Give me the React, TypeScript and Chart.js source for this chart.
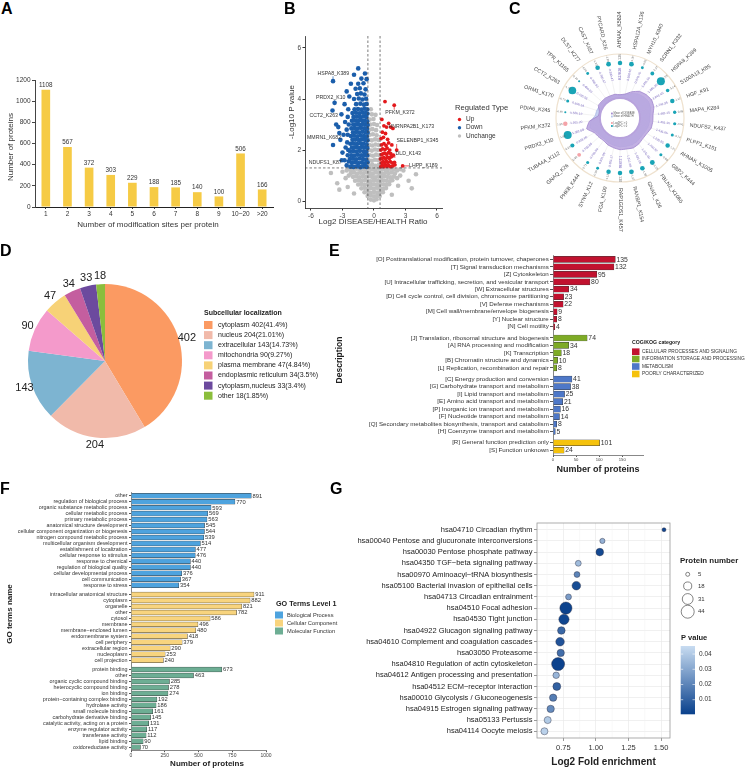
import React, { useEffect, useRef } from "react";
import { Chart, registerables } from "chart.js";

Chart.register(...registerables);
const FONT = '"Liberation Sans", Arial, Helvetica, sans-serif';
Chart.defaults.font.family = FONT;
Chart.defaults.color = "#333";

/* ============================ DATA ============================ */
// ---- A
const aSiteBins = ["1", "2", "3", "4", "5", "6", "7", "8", "9", "10~20", ">20"];
const aProteinCounts = [1108, 567, 372, 303, 229, 188, 185, 140, 100, 506, 166];
const aYTicks = [0, 200, 400, 600, 800, 1000, 1200];

// ---- B (volcano)
const bUnchange: number[][] = [
  [-2.3, 1.25], [-2.0, 1.22], [-1.7, 1.27], [-1.4, 1.24], [-1.1, 1.26], [-0.8, 1.23], [-0.5, 1.27], [-0.2, 1.25], [0.1, 1.22], [0.4, 1.27], [0.7, 1.24], [1.0, 1.26], [1.3, 1.22], [1.6, 1.27], [1.9, 1.24], [2.2, 1.2],
  [-2.2, 1.1], [-1.9, 1.12], [-1.6, 1.08], [-1.3, 1.11], [-1.0, 1.09], [-0.7, 1.12], [-0.4, 1.1], [-0.1, 1.08], [0.2, 1.12], [0.5, 1.1], [0.8, 1.08], [1.1, 1.11], [1.4, 1.09], [1.7, 1.12], [2.0, 1.08],
  [-2.0, 0.95], [-1.7, 0.97], [-1.4, 0.93], [-1.1, 0.96], [-0.8, 0.94], [-0.5, 0.97], [-0.2, 0.95], [0.1, 0.93], [0.4, 0.96], [0.7, 0.94], [1.0, 0.97], [1.3, 0.95], [1.6, 0.93], [1.9, 0.96],
  [-1.8, 0.8], [-1.5, 0.82], [-1.2, 0.79], [-0.9, 0.81], [-0.6, 0.8], [-0.3, 0.78], [0.0, 0.82], [0.3, 0.8], [0.6, 0.79], [0.9, 0.81], [1.2, 0.8], [1.5, 0.78], [1.75, 0.82],
  [-1.5, 0.65], [-1.2, 0.67], [-0.9, 0.63], [-0.6, 0.66], [-0.3, 0.64], [0.0, 0.66], [0.3, 0.63], [0.6, 0.67], [0.9, 0.65], [1.2, 0.64], [1.45, 0.66],
  [-1.2, 0.5], [-0.9, 0.52], [-0.6, 0.48], [-0.3, 0.51], [0.0, 0.49], [0.3, 0.52], [0.6, 0.5], [0.9, 0.48], [1.15, 0.51],
  [-0.9, 0.35], [-0.6, 0.37], [-0.3, 0.33], [0.0, 0.36], [0.3, 0.34], [0.6, 0.37], [0.85, 0.35],
  [-0.6, 0.2], [-0.3, 0.22], [0.0, 0.19], [0.3, 0.21], [0.55, 0.2],
  [-0.3, 0.06], [0.0, 0.03], [0.25, 0.07],
  [-0.45, 1.4], [-0.15, 1.42], [0.15, 1.38], [0.45, 1.41], [-0.5, 1.6], [-0.2, 1.58], [0.1, 1.62], [0.4, 1.6],
  [-0.4, 1.8], [-0.1, 1.78], [0.2, 1.82], [0.5, 1.8], [-0.5, 2.0], [-0.2, 1.98], [0.1, 2.02], [0.4, 2.0],
  [-0.45, 2.2], [-0.15, 2.18], [0.15, 2.22], [0.45, 2.2], [-0.5, 2.4], [-0.2, 2.38], [0.1, 2.42], [0.4, 2.4],
  [-0.4, 2.6], [-0.1, 2.62], [0.25, 2.58], [-0.45, 2.8], [-0.15, 2.82], [0.2, 2.78], [-0.35, 3.0], [0.0, 3.02], [0.3, 2.98],
  [-0.4, 3.2], [-0.05, 3.22], [-0.2, 3.4], [0.15, 3.38], [-0.3, 3.6],
  [-3.0, 1.15], [-2.7, 0.9], [-3.5, 0.7], [-4.1, 1.1], [2.5, 1.0], [2.8, 1.2], [3.3, 0.8], [4.0, 1.05], [-2.5, 0.55], [2.3, 0.6],
  [-1.9, 0.3], [1.7, 0.25], [-2.6, 1.2], [2.5, 1.25], [-2.4, 1.0], [2.2, 0.9], [-3.3, 0.45], [3.6, 0.5],
];
const bDown: number[][] = [
  [-2.25, 1.35], [-1.95, 1.34], [-1.62, 1.36], [-1.3, 1.33], [-1.02, 1.36], [-0.7, 1.34],
  [-2.1, 1.5], [-1.8, 1.52], [-1.48, 1.49], [-1.15, 1.51], [-0.85, 1.48], [-0.62, 1.52],
  [-2.3, 1.65], [-2.0, 1.66], [-1.7, 1.64], [-1.38, 1.67], [-1.05, 1.65], [-0.75, 1.63],
  [-2.15, 1.8], [-1.85, 1.79], [-1.55, 1.82], [-1.22, 1.8], [-0.92, 1.81], [-0.64, 1.79],
  [-2.28, 1.95], [-1.97, 1.96], [-1.66, 1.94], [-1.34, 1.97], [-1.0, 1.95], [-0.72, 1.93],
  [-2.1, 2.1], [-1.8, 2.11], [-1.5, 2.09], [-1.18, 2.12], [-0.88, 2.1], [-0.63, 2.08],
  [-2.25, 2.25], [-1.92, 2.26], [-1.62, 2.24], [-1.3, 2.27], [-1.0, 2.25], [-0.7, 2.23],
  [-2.05, 2.4], [-1.75, 2.41], [-1.45, 2.39], [-1.15, 2.42], [-0.85, 2.4], [-0.62, 2.38],
  [-2.2, 2.55], [-1.9, 2.56], [-1.58, 2.54], [-1.27, 2.57], [-0.96, 2.55], [-0.68, 2.53],
  [-2.0, 2.7], [-1.7, 2.71], [-1.4, 2.69], [-1.1, 2.72], [-0.8, 2.7], [-0.61, 2.68],
  [-2.15, 2.85], [-1.85, 2.86], [-1.55, 2.84], [-1.24, 2.87], [-0.93, 2.85], [-0.66, 2.83],
  [-1.98, 3.0], [-1.68, 3.01], [-1.38, 2.99], [-1.08, 3.02], [-0.78, 3.0], [-0.6, 2.98],
  [-2.1, 3.15], [-1.8, 3.16], [-1.5, 3.14], [-1.2, 3.17], [-0.9, 3.15], [-0.65, 3.13],
  [-1.95, 3.3], [-1.62, 3.31], [-1.32, 3.29], [-1.02, 3.32], [-0.72, 3.3],
  [-2.05, 3.45], [-1.72, 3.46], [-1.4, 3.44], [-1.1, 3.47], [-0.8, 3.45], [-0.62, 3.43],
  [-1.85, 3.6], [-1.52, 3.61], [-1.2, 3.59], [-0.9, 3.62], [-0.65, 3.6],
  [-1.7, 3.8], [-1.3, 3.82], [-0.95, 3.78], [-0.7, 3.81], [-1.9, 4.0], [-1.45, 4.02], [-1.1, 3.98], [-0.75, 4.01],
  [-1.6, 4.2], [-1.25, 4.22], [-0.9, 4.18], [-1.75, 4.4], [-1.35, 4.42], [-0.8, 4.38],
  [-1.5, 4.6], [-1.0, 4.62], [-1.2, 4.8], [-0.7, 4.78], [-0.86, 5.0], [-1.5, 5.2], [-1.9, 4.95],
  [-2.6, 1.4], [-2.8, 1.6], [-2.5, 1.8], [-3.0, 1.9], [-2.7, 2.1], [-2.55, 2.3], [-3.2, 2.4], [-2.9, 2.6], [-2.6, 2.8], [-3.4, 2.9],
  [-2.75, 3.1], [-2.5, 3.3], [-3.1, 3.4], [-2.45, 3.6], [-2.8, 3.8], [-2.35, 4.1], [-2.6, 4.3], [-2.2, 4.6], [-3.6, 3.0], [-3.9, 2.2],
  [-2.4, 1.55], [-2.45, 2.0], [-2.5, 2.6], [-2.4, 3.0],
  [-3.9, 4.7], [-3.75, 3.85], [-3.95, 3.55], [-3.3, 2.67], [-3.07, 1.6],
];
const bUp: number[][] = [
  [1.93, 3.76], [1.05, 3.9], [1.2, 2.9], [1.8, 2.85], [2.16, 2.0], [1.5, 1.7], [2.73, 1.38],
  [0.65, 1.35], [0.8, 1.4], [0.95, 1.35], [1.1, 1.42], [1.25, 1.36], [1.4, 1.4], [1.6, 1.35], [1.8, 1.38], [2.0, 1.42],
  [0.7, 1.5], [0.88, 1.55], [1.02, 1.5], [1.18, 1.56], [1.33, 1.52], [1.55, 1.55], [1.72, 1.5], [1.95, 1.52],
  [0.62, 1.65], [0.78, 1.68], [0.95, 1.7], [1.12, 1.66], [1.28, 1.72], [1.45, 1.68], [1.65, 1.74],
  [0.7, 1.82], [0.85, 1.85], [1.0, 1.88], [1.2, 1.84], [1.38, 1.9], [1.6, 1.86], [1.85, 1.8],
  [0.65, 2.0], [0.82, 2.05], [1.05, 2.02], [1.25, 2.08], [1.5, 2.0],
  [0.72, 2.2], [0.95, 2.25], [1.15, 2.18], [1.4, 2.28], [1.7, 2.2],
  [0.68, 2.45], [0.9, 2.5], [1.3, 2.42], [0.8, 2.7], [1.1, 2.65], [0.95, 2.95], [1.6, 2.9], [1.4, 3.05], [0.75, 3.2],
];
const bXTicks = [-6, -3, 0, 3, 6];
const bYTicks = [0, 2, 4, 6];
const bFcCutoff = 0.58;
const bPCutoff = 1.3;
const bTypes = ["Up", "Down", "Unchange"];
const bLabelNames = ["HSPA8_K389", "PRDX2_K10", "CCT2_K263", "MMRN1_K682", "NDUFS1_K87", "PFKM_K372", "HNRNPA2B1_K173", "SELENBP1_K345", "DLD_K143", "LHPP_K189"];
const bLabelPoints = [[-3.9, 4.7], [-3.75, 3.85], [-3.95, 3.55], [-3.3, 2.67], [-3.07, 1.6], [1.93, 3.76], [1.2, 2.9], [2.16, 2.0], [1.5, 1.7], [2.73, 1.38]];

// ---- C (circular plot)
const cSites = ["AHNAK_K5824", "HSPA12A_K136", "MYH10_K940", "SCRN1_K332", "HSPA8_K389", "S100A13_K85", "HGF_K91", "MAP4_K284", "NDUFS2_K437", "PLPP1_K151",
  "AHNAK_K1005", "GBP2_K444", "FBLN2_K1065", "GNAI1_K26", "RANBP1_K154", "RAP1GDS1_K457", "FGA_K100", "SYNM_K12", "PHKB_K444", "GNAQ_K26",
  "TUBA4A_K112", "PRDX2_K10", "PFKM_K372", "PDIA6_K245", "ORM1_K170", "CCT2_K263", "TPR_K1165", "DLST_K277", "CAST_K457", "PYCARD_K26"];
const cLog2FC = [-1.36, -1.30, -0.95, -1.07, -1.93, -1.04, -1.12, -0.86, -0.91, -0.74, -1.21, -0.88, -1.35, -1.50, -1.27, -1.38, -1.13, -0.90, -0.71, 0.82,
  -1.15, -1.88, 1.93, -0.66, -0.79, -1.72, -0.70, -0.95, -1.33, -1.26];
const cSignif = [2.2, 2.3, 1.7, 2.0, 3.3, 1.9, 2.2, 1.85, 1.8, 1.75, 2.2, 1.75, 2.3, 2.25, 2.3, 2.2, 2.2, 1.7, 1.75, 2.0, 2.1, 3.3, 2.2, 1.45, 1.75, 3.2, 1.45, 1.7, 2.25, 2.3];
const cMeanDisease = [0.37, 0.5, 0.97, 1.45, 1.68, 1.84, 1.74, 1.48, 1.45, 1.43, 1.23, 1.2, 1.34, 1.42, 1.31, 1.31, 1.17, 1.06, 0.89, 0.95,
  1.06, 1.68, 1.2, 0.19, 0.19, 0.56, 0.53, 0.53, 0.47, 0.47];
const cMeanHealth = [0.3, 0.42, 0.75, 1.1, 1.3, 1.45, 1.35, 1.15, 1.1, 1.05, 0.95, 0.92, 1.0, 1.05, 1.0, 0.98, 0.9, 0.82, 0.7, 0.75,
  0.85, 1.3, 1.05, 0.55, 0.5, 0.42, 0.4, 0.4, 0.36, 0.33];
const cInnerLegend = ["Mean of DISEASE", "Mean of HEALTH", "Log2FC > 0", "Log2FC < 0"];

// ---- D (pie)
const dLocations = ["cytoplasm", "nucleus", "extracellular", "mitochondria", "plasma membrane", "endoplasmic reticulum", "cytoplasm,nucleus", "other"];
const dCounts = [402, 204, 143, 90, 47, 34, 33, 18];
const dPercents = ["41.4%", "21.01%", "14.73%", "9.27%", "4.84%", "3.5%", "3.4%", "1.85%"];

// ---- E (COG/KOG)
const eCategories = ["CELLULAR PROCESSES AND SIGNALING", "INFORMATION STORAGE AND PROCESSING", "METABOLISM", "POORLY CHARACTERIZED"];
const eCellular = ["[O] Posttranslational modification, protein turnover, chaperones", "[T] Signal transduction mechanisms", "[Z] Cytoskeleton",
  "[U] Intracellular trafficking, secretion, and vesicular transport", "[W] Extracellular structures", "[D] Cell cycle control, cell division, chromosome partitioning",
  "[V] Defense mechanisms", "[M] Cell wall/membrane/envelope biogenesis", "[Y] Nuclear structure", "[N] Cell motility"];
const eCellularN = [135, 132, 95, 80, 34, 23, 22, 9, 8, 4];
const eInfo = ["[J] Translation, ribosomal structure and biogenesis", "[A] RNA processing and modification", "[K] Transcription", "[B] Chromatin structure and dynamics", "[L] Replication, recombination and repair"];
const eInfoN = [74, 34, 18, 10, 8];
const eMetab = ["[C] Energy production and conversion", "[G] Carbohydrate transport and metabolism", "[I] Lipid transport and metabolism", "[E] Amino acid transport and metabolism",
  "[P] Inorganic ion transport and metabolism", "[F] Nucleotide transport and metabolism", "[Q] Secondary metabolites biosynthesis, transport and catabolism", "[H] Coenzyme transport and metabolism"];
const eMetabN = [41, 38, 25, 21, 16, 14, 8, 5];
const ePoor = ["[R] General function prediction only", "[S] Function unknown"];
const ePoorN = [101, 24];
const eXTicks = [0, 50, 100, 150];

// ---- F (GO)
const fLevels = ["Biological Process", "Cellular Component", "Molecular Function"];
const fBP = ["other", "regulation of biological process", "organic substance metabolic process", "cellular metabolic process", "primary metabolic process",
  "anatomical structure development", "cellular component organization or biogenesis", "nitrogen compound metabolic process", "multicellular organism development",
  "establishment of localization", "cellular response to stimulus", "response to chemical", "regulation of biological quality", "cellular developmental process",
  "cell communication", "response to stress"];
const fBPN = [891, 770, 593, 569, 563, 545, 544, 539, 514, 477, 476, 440, 440, 376, 367, 354];
const fCC = ["intracellular anatomical structure", "cytoplasm", "organelle", "other", "cytosol", "membrane", "membrane\u2212enclosed lumen", "endomembrane system",
  "cell periphery", "extracellular region", "nucleoplasm", "cell projection"];
const fCCN = [911, 882, 821, 782, 586, 496, 480, 418, 379, 290, 253, 240];
const fMF = ["protein binding", "other", "organic cyclic compound binding", "heterocyclic compound binding", "ion binding", "protein\u2212containing complex binding",
  "hydrolase activity", "small molecule binding", "carbohydrate derivative binding", "catalytic activity, acting on a protein", "enzyme regulator activity",
  "transferase activity", "lipid binding", "oxidoreductase activity"];
const fMFN = [673, 463, 285, 278, 274, 192, 186, 161, 145, 131, 117, 112, 90, 70];
const fXTicks = [0, 250, 500, 750, 1000];

// ---- G (KEGG)
const gPathways = ["hsa04710 Circadian rhythm", "hsa00040 Pentose and glucuronate interconversions", "hsa00030 Pentose phosphate pathway", "hsa04350 TGF\u2212beta signaling pathway",
  "hsa00970 Aminoacyl\u2212tRNA biosynthesis", "hsa05100 Bacterial invasion of epithelial cells", "hsa04713 Circadian entrainment", "hsa04510 Focal adhesion",
  "hsa04530 Tight junction", "hsa04922 Glucagon signaling pathway", "hsa04610 Complement and coagulation cascades", "hsa03050 Proteasome",
  "hsa04810 Regulation of actin cytoskeleton", "hsa04612 Antigen processing and presentation", "hsa04512 ECM\u2212receptor interaction",
  "hsa00010 Glycolysis / Gluconeogenesis", "hsa04915 Estrogen signaling pathway", "hsa05133 Pertussis", "hsa04114 Oocyte meiosis"];
const gFold = [1.523, 1.05, 1.03, 0.865, 0.855, 0.85, 0.79, 0.77, 0.755, 0.735, 0.725, 0.73, 0.71, 0.695, 0.70, 0.672, 0.653, 0.63, 0.605];
const gCount = [5, 8, 16, 10, 10, 20, 10, 39, 28, 16, 20, 15, 44, 12, 17, 15, 15, 14, 14];
const gP = [0.002, 0.033, 0.003, 0.036, 0.02, 0.004, 0.027, 0.001, 0.002, 0.012, 0.006, 0.014, 0.001, 0.034, 0.01, 0.018, 0.022, 0.04, 0.042];
const gXTicks = [0.75, 1.0, 1.25, 1.5];
const gMinorX = [0.625, 0.875, 1.125, 1.375];
const gSizeBreaks = [5, 18, 31, 44];
const gPBreaks = [0.04, 0.03, 0.02, 0.01];
const gPRange = [0.0004, 0.0453];

/* ============================ STYLE / HELPERS ============================ */
const fnt = (size: number, bold = false) => `${bold ? "bold " : ""}${size}px ${FONT}`;
type T = { t: string; x: number; y: number; s: number; b?: boolean; c?: string; a?: CanvasTextAlign; r?: number };
function drawT(ctx: any, items: T[], ox: number, oy: number) {
  items.forEach((it) => {
    ctx.save();
    ctx.translate(it.x - ox, it.y - oy);
    if (it.r) ctx.rotate(it.r);
    ctx.font = fnt(it.s, it.b);
    ctx.fillStyle = it.c || "#333";
    ctx.textAlign = it.a || "center";
    ctx.textBaseline = "middle";
    ctx.fillText(it.t, 0, 0);
    ctx.restore();
  });
}
const overlay = (id: string, ox: number, oy: number, items: T[], extra?: (ctx: any, chart: any) => void) => ({
  id,
  afterDraw(chart: any) {
    const ctx = chart.ctx;
    ctx.save();
    if (extra) extra(ctx, chart);
    drawT(ctx, items, ox, oy);
    ctx.restore();
  },
});
const base = (pad: any) => ({
  animation: false, responsive: false, maintainAspectRatio: false, events: [],
  layout: { padding: pad },
  plugins: { legend: { display: false }, tooltip: { enabled: false } },
});
const fixTicks = (vals: number[]) => (s: any) => { s.ticks = vals.map((v) => ({ value: v })); };
function groupPositions(sizes: number[], gap: number) {
  const pos: number[] = [];
  let k = 0;
  sizes.forEach((n, g) => { for (let i = 0; i < n; i++) { pos.push(k + g * gap); k++; } });
  return pos;
}
const barValues = (id: string, size: number) => ({
  id,
  afterDatasetsDraw(chart: any) {
    const ctx = chart.ctx;
    ctx.save();
    ctx.font = fnt(size);
    ctx.fillStyle = "#333";
    ctx.textAlign = "left";
    ctx.textBaseline = "middle";
    chart.data.datasets.forEach((ds: any, di: number) => {
      chart.getDatasetMeta(di).data.forEach((bar: any, i: number) => ctx.fillText(String(ds.data[i].x), bar.x + 1.2, bar.y + 0.3));
    });
    ctx.restore();
  },
});
const rot90 = -Math.PI / 2;

/* ============================ A ============================ */
function buildA() {
  const ox = 0, oy = 40;
  const vals = {
    id: "aVals",
    afterDatasetsDraw(chart: any) {
      const ctx = chart.ctx;
      ctx.save();
      ctx.font = fnt(6.3);
      ctx.fillStyle = "#333";
      ctx.textAlign = "center";
      ctx.textBaseline = "bottom";
      chart.getDatasetMeta(0).data.forEach((bar: any, i: number) => ctx.fillText(String(aProteinCounts[i]), bar.x, bar.y - 1.5));
      ctx.restore();
    },
  };
  return {
    type: "bar",
    data: { labels: aSiteBins, datasets: [{ data: aProteinCounts, backgroundColor: "#F6CB45", barPercentage: 0.4, categoryPercentage: 1 }] },
    options: {
      ...base({ top: 40, right: 12, left: 0, bottom: 0 }),
      scales: {
        x: { grid: { offset: false, drawOnChartArea: false, tickLength: 2, color: "#333" }, border: { color: "#222", width: 1 },
          ticks: { font: { size: 6.5 }, color: "#333", padding: 1.5, autoSkip: false, maxRotation: 0 }, afterFit: (s: any) => { s.height = 33; } },
        y: { min: 0, max: 1200, afterBuildTicks: fixTicks(aYTicks), grid: { drawOnChartArea: false, tickLength: 3, color: "#444" }, border: { color: "#444" },
          ticks: { font: { size: 6.5 }, color: "#333", padding: 1.5, callback: (v: any) => String(v) }, afterFit: (s: any) => { s.width = 35; } },
      },
    },
    plugins: [vals, overlay("aTxt", ox, oy, [
      { t: "Number of modification sites per protein", x: 148, y: 225, s: 8 },
      { t: "Number of proteins", x: 10.7, y: 147, s: 8, r: rot90 },
    ])],
  };
}

/* ============================ B ============================ */
function buildB() {
  const ox = 270, oy = 20;
  const colors = ["#E3191C", "#1B5EAB", "#BFBFBF"];
  const textPos = [[333.3, 73.3], [330.8, 97.3], [323.7, 116], [324, 137.3], [325.3, 162.7], [400, 112.7], [411.3, 126.7], [417.5, 141], [408.3, 154], [423.3, 165.7]];
  const deco = {
    id: "bDeco",
    afterDatasetsDraw(chart: any) {
      const ctx = chart.ctx, xs = chart.scales.x, ys = chart.scales.y, a = chart.chartArea;
      ctx.save();
      ctx.strokeStyle = "#444";
      ctx.lineWidth = 0.7;
      ctx.setLineDash([2.5, 2]);
      [-bFcCutoff, bFcCutoff].forEach((v) => {
        const px = xs.getPixelForValue(v);
        ctx.beginPath(); ctx.moveTo(px, a.top); ctx.lineTo(px, a.bottom); ctx.stroke();
      });
      const py = ys.getPixelForValue(bPCutoff);
      ctx.beginPath(); ctx.moveTo(a.left, py); ctx.lineTo(a.right, py); ctx.stroke();
      ctx.setLineDash([]);
      ctx.font = fnt(5.2);
      ctx.textAlign = "center";
      ctx.textBaseline = "middle";
      bLabelNames.forEach((name, i) => {
        const [vx, vy] = bLabelPoints[i];
        const px2 = xs.getPixelForValue(vx), py2 = ys.getPixelForValue(vy);
        const cx = textPos[i][0] - ox, cy = textPos[i][1] - oy;
        const w = ctx.measureText(name).width;
        const sx = Math.max(cx - w / 2, Math.min(cx + w / 2, px2));
        const sy = Math.max(cy - 3, Math.min(cy + 3, py2));
        if (Math.hypot(px2 - sx, py2 - sy) > 2.5) {
          ctx.strokeStyle = vx < 0 ? colors[1] : colors[0];
          ctx.lineWidth = 0.7;
          ctx.beginPath(); ctx.moveTo(sx, sy); ctx.lineTo(px2, py2); ctx.stroke();
        }
        ctx.fillStyle = "#333";
        ctx.fillText(name, cx, cy);
      });
      const ly = [119.5, 127.7, 136];
      bTypes.forEach((t, i) => {
        ctx.fillStyle = colors[i];
        ctx.beginPath(); ctx.arc(459.5 - ox, ly[i] - oy, 1.7, 0, Math.PI * 2); ctx.fill();
      });
      ctx.restore();
    },
  };
  const ds = (pts: number[][], color: string, order: number, r: number) => ({
    data: pts.map(([x, y]) => ({ x, y })), pointRadius: r, pointBackgroundColor: color, pointBorderWidth: 0, showLine: false, order,
  });
  return {
    type: "scatter",
    data: { datasets: [ds(bUp, colors[0], 1, 1.9), ds(bDown, colors[1], 2, 2.3), ds(bUnchange, colors[2], 3, 2.3)] },
    options: {
      ...base({ top: 16, right: 78, left: 0, bottom: 0 }),
      scales: {
        x: { type: "linear", min: -6.57, max: 6.48, afterBuildTicks: fixTicks(bXTicks), grid: { drawOnChartArea: false, tickLength: 2.5, color: "#333" },
          border: { color: "#222", width: 0.8 }, ticks: { font: { size: 6.5 }, color: "#444", padding: 1.5 }, afterFit: (s: any) => { s.height = 32; } },
        y: { type: "linear", min: -0.27, max: 6.47, afterBuildTicks: fixTicks(bYTicks), grid: { drawOnChartArea: false, tickLength: 2.5, color: "#333" },
          border: { color: "#222", width: 0.8 }, ticks: { font: { size: 6.5 }, color: "#444", padding: 1.5 }, afterFit: (s: any) => { s.width = 35; } },
      },
    },
    plugins: [deco, overlay("bTxt", ox, oy, [
      { t: "Log2 DISEASE/HEALTH Ratio", x: 373, y: 222, s: 8 },
      { t: "-Log10 P value", x: 291.5, y: 112, s: 8, r: rot90 },
      { t: "Regulated Type", x: 455, y: 108, s: 7.6, a: "left" },
      { t: bTypes[0], x: 466, y: 119.5, s: 6.5, a: "left" },
      { t: bTypes[1], x: 466, y: 127.7, s: 6.5, a: "left" },
      { t: bTypes[2], x: 466, y: 136, s: 6.5, a: "left" },
    ])],
  };
}

/* ============================ C ============================ */
const C_MIN = -2.235, C_MAX = 5.14;
const C_DOT_RING = 3.91;
function radialText(ctx: any, s: any, i: number, text: string, r: number, align: "start" | "center", size: number, color: string) {
  const theta = s.getIndexAngle(i);
  const a = theta - Math.PI / 2;
  const flip = theta > Math.PI + 0.01;
  ctx.save();
  ctx.translate(s.xCenter, s.yCenter);
  ctx.font = fnt(size);
  ctx.fillStyle = color;
  ctx.textBaseline = "middle";
  if (!flip) {
    ctx.rotate(a);
    ctx.textAlign = align === "start" ? "left" : "center";
    ctx.fillText(text, r, 0);
  } else {
    ctx.rotate(a + Math.PI);
    ctx.textAlign = align === "start" ? "right" : "center";
    ctx.fillText(text, -r, 0);
  }
  ctx.restore();
}
function buildC() {
  const deco = {
    id: "cDeco",
    beforeDatasetsDraw(chart: any) {
      const s = chart.scales.r, ctx = chart.ctx, k = s.drawingArea / 66;
      ctx.save();
      ctx.strokeStyle = "#EFE2CF";
      ctx.lineWidth = 1.2;
      ctx.beginPath(); ctx.arc(s.xCenter, s.yCenter, 64 * k, 0, Math.PI * 2); ctx.stroke();
      ctx.strokeStyle = "#E6E6E6";
      ctx.lineWidth = 0.5;
      for (let i = 0; i < cSites.length; i++) {
        const p1 = s.getPointPosition(i, 20 * k), p2 = s.getPointPosition(i, 51 * k);
        ctx.beginPath(); ctx.moveTo(p1.x, p1.y); ctx.lineTo(p2.x, p2.y); ctx.stroke();
      }
      ctx.restore();
    },
    afterDatasetsDraw(chart: any) {
      const s = chart.scales.r, ctx = chart.ctx, k = s.drawingArea / 66;
      const cx = s.xCenter, cy = s.yCenter;
      ctx.save();
      ctx.beginPath(); ctx.arc(cx, cy, 20 * k, 0, Math.PI * 2);
      ctx.fillStyle = "#fff"; ctx.fill();
      ctx.strokeStyle = "#B7A2DC"; ctx.lineWidth = 1.8; ctx.stroke();
      const sq = ["#A58DD0", "#B3C3EA", "#F4A3A8", "#19A4B6"];
      const ly = [-4.5, -1.5, 5, 8];
      cInnerLegend.forEach((t, i) => {
        ctx.fillStyle = sq[i];
        ctx.fillRect(cx - 9, cy + ly[i] - 0.9, 1.8, 1.8);
        ctx.font = fnt(2.6);
        ctx.fillStyle = "#555";
        ctx.textAlign = "left";
        ctx.textBaseline = "middle";
        ctx.fillText(t, cx - 6.5, cy + ly[i]);
      });
      ctx.restore();
      for (let i = 0; i < cSites.length; i++) {
        radialText(ctx, s, i, cMeanDisease[i].toFixed(2), 41 * k, "center", 3.2, "#7D6BC4");
        radialText(ctx, s, i, cMeanHealth[i].toFixed(2), 47 * k, "center", 3.2, "#7D6BC4");
        radialText(ctx, s, i, cLog2FC[i].toFixed(2), 60.5 * k, "center", 2.8, "#666");
        radialText(ctx, s, i, cSites[i], 70 * k, "start", 5.3, "#444");
      }
    },
  };
  const sigR = (v: number) => 0.8 + (v - 1.3) * 1.6;
  return {
    type: "radar",
    data: {
      labels: cSites,
      datasets: [
        { label: "sites", data: cSites.map(() => C_DOT_RING), showLine: false, borderWidth: 0, fill: false, backgroundColor: "rgba(0,0,0,0)",
          pointRadius: cSignif.map(sigR), pointBackgroundColor: cLog2FC.map((v) => (v > 0 ? "#F4A3A8" : "#19A4B6")), pointBorderWidth: 0, order: 1 },
        { label: "DISEASE", data: cMeanDisease, fill: "start", backgroundColor: "rgba(183,162,222,0.85)", borderColor: "#9E84CC", borderWidth: 0.8,
          pointRadius: 0, tension: 0.1, order: 2 },
        { label: "HEALTH", data: cMeanHealth, fill: "start", backgroundColor: "rgba(185,198,238,0.8)", borderColor: "rgba(150,165,220,0.9)", borderWidth: 0.6,
          pointRadius: 0, tension: 0.1, order: 3 },
      ],
    },
    options: {
      ...base({ top: 52, bottom: 56, left: 0, right: 6 }),
      scales: {
        r: { min: C_MIN, max: C_MAX, startAngle: 0, ticks: { display: false }, grid: { display: false }, angleLines: { display: false }, pointLabels: { display: false } },
      },
    },
    plugins: [deco],
  };
}

/* ============================ D ============================ */
function buildD() {
  const ox = 0, oy = 240;
  const colors = ["#FB9A62", "#F1BAAA", "#7DB4D1", "#F49ACB", "#F7D277", "#C45E9F", "#6C4A9E", "#8BBE3C"];
  const deco = {
    id: "dDeco",
    afterDatasetsDraw(chart: any) {
      const ctx = chart.ctx;
      ctx.save();
      ctx.font = fnt(11);
      ctx.fillStyle = "#222";
      ctx.textAlign = "center";
      ctx.textBaseline = "middle";
      chart.getDatasetMeta(0).data.forEach((arc: any, i: number) => {
        const mid = (arc.startAngle + arc.endAngle) / 2, r = arc.outerRadius + 8;
        ctx.fillText(String(dCounts[i]), arc.x + Math.cos(mid) * r, arc.y + Math.sin(mid) * r);
      });
      dLocations.forEach((loc, i) => {
        const y = 325 + i * 10.1 - oy;
        ctx.fillStyle = colors[i];
        ctx.fillRect(204 - ox, y - 4, 8.5, 8);
        ctx.font = fnt(7);
        ctx.fillStyle = "#222";
        ctx.textAlign = "left";
        ctx.fillText(`${loc} ${dCounts[i]}(${dPercents[i]})`, 218 - ox, y);
      });
      ctx.restore();
    },
  };
  return {
    type: "pie",
    data: { labels: dLocations, datasets: [{ data: dCounts, backgroundColor: colors, borderWidth: 0 }] },
    options: { ...base({ left: 28, top: 44, right: 148, bottom: 22 }) },
    plugins: [deco, overlay("dTxt", ox, oy, [{ t: "Subcellular localization", x: 204, y: 313, s: 7, b: true, a: "left", c: "#222" }])],
  };
}

/* ============================ E ============================ */
function buildE() {
  const ox = 330, oy = 240;
  const colors = ["#C1122F", "#7EAB26", "#4E78C8", "#F5C20C"];
  const groups = [[eCellular, eCellularN], [eInfo, eInfoN], [eMetab, eMetabN], [ePoor, ePoorN]] as any[];
  const pos = groupPositions(groups.map((g) => g[0].length), 0.5);
  const labels = groups.flatMap((g) => g[0]);
  let off = 0;
  const datasets = groups.map((g, gi) => {
    const d = g[1].map((v: number, i: number) => ({ x: v, y: pos[off + i] }));
    off += g[1].length;
    return { data: d, backgroundColor: colors[gi], borderColor: "#3a3a3a", borderWidth: 0.5, barThickness: 6, grouped: false };
  });
  const ly = [351.7, 359, 366.5, 374];
  const legend = (ctx: any) => {
    eCategories.forEach((c, i) => {
      ctx.fillStyle = colors[i];
      ctx.fillRect(632 - ox, ly[i] - 3.3 - oy, 7.5, 6.6);
    });
  };
  return {
    type: "bar",
    data: { datasets },
    options: {
      ...base({ top: 15.6, right: 113, left: 0, bottom: 0 }),
      indexAxis: "y",
      scales: {
        x: { type: "linear", min: 0, max: 195, afterBuildTicks: fixTicks(eXTicks), grid: { drawOnChartArea: false, tickLength: 1.5, color: "#555" },
          border: { color: "#555", width: 0.7 }, ticks: { font: { size: 4.2 }, color: "#444", padding: 0.5 }, afterFit: (s: any) => { s.height = 24.5; } },
        y: { type: "linear", reverse: true, offset: false, min: -0.5, max: 26.2, afterBuildTicks: fixTicks(pos),
          grid: { offset: false, drawOnChartArea: false, tickLength: 3, color: "#555" }, border: { color: "#555", width: 0.7 },
          ticks: { font: { size: 6.2 }, color: "#333", padding: 1.2, autoSkip: false, callback: (_v: any, i: number) => labels[i] },
          afterFit: (s: any) => { s.width = 223; } },
      },
    },
    plugins: [barValues("eVals", 6.8), overlay("eTxt", ox, oy, [
      { t: "Number of proteins", x: 598, y: 470, s: 9, b: true, c: "#222" },
      { t: "Description", x: 340, y: 360, s: 8.5, b: true, r: rot90, c: "#222" },
      { t: "COG/KOG category", x: 632, y: 343, s: 5.2, b: true, a: "left", c: "#222" },
      ...eCategories.map((c, i) => ({ t: c, x: 642, y: ly[i], s: 4.8, a: "left" as CanvasTextAlign, c: "#333" })),
    ], legend)],
  };
}

/* ============================ F ============================ */
function buildF() {
  const ox = 0, oy = 480;
  const colors = ["#4EA3DE", "#F8D47E", "#6DAE94"];
  const groups = [[fBP, fBPN], [fCC, fCCN], [fMF, fMFN]] as any[];
  const pos = groupPositions(groups.map((g) => g[0].length), 0.56);
  const labels = groups.flatMap((g) => g[0]);
  let off = 0;
  const datasets = groups.map((g, gi) => {
    const d = g[1].map((v: number, i: number) => ({ x: v, y: pos[off + i] }));
    off += g[1].length;
    return { data: d, backgroundColor: colors[gi], borderColor: "#3a3a3a", borderWidth: 0.5, barThickness: 4.8, grouped: false };
  });
  const ly = [615, 623, 631];
  const legend = (ctx: any) => {
    fLevels.forEach((c, i) => {
      ctx.fillStyle = colors[i];
      ctx.fillRect(275 - ox, ly[i] - 3.5 - oy, 8, 7);
    });
  };
  return {
    type: "bar",
    data: { datasets },
    options: {
      ...base({ top: 12.1, right: 79, left: 0, bottom: 0 }),
      indexAxis: "y",
      scales: {
        x: { type: "linear", min: 0, max: 1000, afterBuildTicks: fixTicks(fXTicks), grid: { drawOnChartArea: false, tickLength: 1.5, color: "#555" },
          border: { color: "#555", width: 0.7 }, ticks: { font: { size: 5 }, color: "#444", padding: 0.5, callback: (v: any) => String(v) }, afterFit: (s: any) => { s.height = 19.3; } },
        y: { type: "linear", reverse: true, offset: false, min: -0.6, max: 42.72, afterBuildTicks: fixTicks(pos),
          grid: { offset: false, drawOnChartArea: false, tickLength: 2, color: "#555" }, border: { color: "#555", width: 0.7 },
          ticks: { font: { size: 5.4 }, color: "#333", padding: 1.5, autoSkip: false, callback: (_v: any, i: number) => labels[i] },
          afterFit: (s: any) => { s.width = 131; } },
      },
    },
    plugins: [barValues("fVals", 5.8), overlay("fTxt", ox, oy, [
      { t: "Number of proteins", x: 207, y: 764, s: 8, b: true, c: "#222" },
      { t: "GO terms name", x: 10, y: 614, s: 8, b: true, r: rot90, c: "#222" },
      { t: "GO Terms Level 1", x: 276, y: 604, s: 7.2, b: true, a: "left", c: "#222" },
      ...fLevels.map((c, i) => ({ t: c, x: 287, y: ly[i], s: 5.7, a: "left" as CanvasTextAlign, c: "#333" })),
    ], legend)],
  };
}

/* ============================ G ============================ */
const P_DARK = [9, 64, 140];
const P_LIGHT = [200, 220, 241];
function pColor(p: number) {
  const t = Math.max(0, Math.min(1, (p - gPRange[0]) / (gPRange[1] - gPRange[0])));
  const c = P_DARK.map((d, i) => Math.round(d + (P_LIGHT[i] - d) * t));
  return `rgb(${c[0]},${c[1]},${c[2]})`;
}
const gSize = (n: number) => 2 + 4.5 * (Math.sqrt(n) - Math.sqrt(5)) / (Math.sqrt(44) - Math.sqrt(5));
function buildG() {
  const ox = 340, oy = 500;
  const pos = gPathways.map((_, i) => i);
  const bar = { x: 680.7, y: 646, w: 14.3, h: 68.3 };
  const sizeY = [574.3, 586, 599, 611.7];
  const deco = {
    id: "gDeco",
    beforeDatasetsDraw(chart: any) {
      const ctx = chart.ctx, xs = chart.scales.x, a = chart.chartArea;
      ctx.save();
      ctx.strokeStyle = "#F3F3F3";
      ctx.lineWidth = 0.5;
      gMinorX.forEach((v) => {
        const px = xs.getPixelForValue(v);
        ctx.beginPath(); ctx.moveTo(px, a.top); ctx.lineTo(px, a.bottom); ctx.stroke();
      });
      ctx.restore();
    },
    afterDraw(chart: any) {
      const ctx = chart.ctx, a = chart.chartArea;
      ctx.save();
      ctx.strokeStyle = "#9A9A9A";
      ctx.lineWidth = 0.8;
      ctx.strokeRect(a.left, a.top, a.right - a.left, a.bottom - a.top);
      gSizeBreaks.forEach((n, i) => {
        ctx.beginPath();
        ctx.arc(687.7 - ox, sizeY[i] - oy, gSize(n), 0, Math.PI * 2);
        ctx.fillStyle = "#fff"; ctx.fill();
        ctx.strokeStyle = "#333"; ctx.lineWidth = 0.6; ctx.stroke();
        ctx.font = fnt(6); ctx.fillStyle = "#333"; ctx.textAlign = "left"; ctx.textBaseline = "middle";
        ctx.fillText(String(n), 698 - ox, sizeY[i] - oy);
      });
      const grd = ctx.createLinearGradient(0, bar.y - oy, 0, bar.y + bar.h - oy);
      grd.addColorStop(0, pColor(gPRange[1]));
      grd.addColorStop(0.5, pColor((gPRange[0] + gPRange[1]) / 2));
      grd.addColorStop(1, pColor(gPRange[0]));
      ctx.fillStyle = grd;
      ctx.fillRect(bar.x - ox, bar.y - oy, bar.w, bar.h);
      gPBreaks.forEach((p) => {
        const y = bar.y + (gPRange[1] - p) / (gPRange[1] - gPRange[0]) * bar.h - oy;
        ctx.strokeStyle = "#fff"; ctx.lineWidth = 0.6;
        ctx.beginPath(); ctx.moveTo(bar.x - ox, y); ctx.lineTo(bar.x - ox + 2.5, y);
        ctx.moveTo(bar.x + bar.w - ox - 2.5, y); ctx.lineTo(bar.x + bar.w - ox, y); ctx.stroke();
        ctx.font = fnt(6.5); ctx.fillStyle = "#333"; ctx.textAlign = "left"; ctx.textBaseline = "middle";
        ctx.fillText(p.toFixed(2), 699 - ox, y);
      });
      ctx.restore();
    },
  };
  return {
    type: "scatter",
    data: {
      datasets: [{
        data: gFold.map((v, i) => ({ x: v, y: pos[i] })),
        pointRadius: gCount.map(gSize), pointBackgroundColor: gP.map(pColor), pointBorderColor: "rgba(40,40,60,0.7)", pointBorderWidth: 0.6, showLine: false,
      }],
    },
    options: {
      ...base({ top: 23, right: 86, left: 0, bottom: 0 }),
      scales: {
        x: { type: "linear", min: 0.548, max: 1.569, afterBuildTicks: fixTicks(gXTicks),
          grid: { color: "#EAEAEA", lineWidth: 0.7, tickLength: 3, tickColor: "#555", tickWidth: 0.6 }, border: { display: false },
          ticks: { font: { size: 7.5 }, color: "#333", padding: 2, callback: (v: any) => Number(v).toFixed(2) }, afterFit: (s: any) => { s.height = 32; } },
        y: { type: "linear", reverse: true, min: -0.6, max: 18.6, afterBuildTicks: fixTicks(pos),
          grid: { color: "#EAEAEA", lineWidth: 0.7, tickLength: 3, tickColor: "#555", tickWidth: 0.6 }, border: { display: false },
          ticks: { font: { size: 7.5 }, color: "#222", padding: 1.5, autoSkip: false, callback: (_v: any, i: number) => gPathways[i] },
          afterFit: (s: any) => { s.width = 197; } },
      },
    },
    plugins: [deco, overlay("gTxt", ox, oy, [
      { t: "Log2 Fold enrichment", x: 603.5, y: 762, s: 10, b: true, c: "#222" },
      { t: "Protein number", x: 680, y: 561, s: 7.9, b: true, a: "left", c: "#222" },
      { t: "P value", x: 681, y: 638, s: 7.5, b: true, a: "left", c: "#222" },
    ])],
  };
}

/* ============================ COMPONENTS ============================ */
function ChartBox({ x, y, w, h, build }: { x: number; y: number; w: number; h: number; build: () => any }) {
  const ref = useRef<HTMLCanvasElement | null>(null);
  useEffect(() => {
    if (!ref.current) return;
    const chart = new Chart(ref.current, build());
    return () => chart.destroy();
  }, []);
  return <canvas ref={ref} width={w} height={h} style={{ position: "absolute", left: x, top: y, width: w, height: h }} />;
}

const panelLetters = [
  { t: "A", x: 1, y: 1.3 }, { t: "B", x: 284, y: 1.3 }, { t: "C", x: 509, y: 1.3 },
  { t: "D", x: 0, y: 243 }, { t: "E", x: 329, y: 243 }, { t: "F", x: 0, y: 481.3 }, { t: "G", x: 330, y: 481 },
];

export default function App() {
  return (
    <div style={{ position: "absolute", left: 0, top: 0, width: 756, height: 770, background: "#fff", overflow: "hidden", fontFamily: FONT }}>
      <ChartBox x={0} y={40} w={285} h={200} build={buildA} />
      <ChartBox x={270} y={20} w={250} h={220} build={buildB} />
      <ChartBox x={490} y={0} w={266} h={240} build={buildC} />
      <ChartBox x={0} y={240} w={330} h={220} build={buildD} />
      <ChartBox x={330} y={240} w={426} h={240} build={buildE} />
      <ChartBox x={0} y={480} w={345} h={290} build={buildF} />
      <ChartBox x={340} y={500} w={416} h={270} build={buildG} />
      {panelLetters.map((p) => (
        <div key={p.t} style={{ position: "absolute", left: p.x, top: p.y, fontSize: 16, lineHeight: "16px", fontWeight: "bold", color: "#000" }}>{p.t}</div>
      ))}
    </div>
  );
}
